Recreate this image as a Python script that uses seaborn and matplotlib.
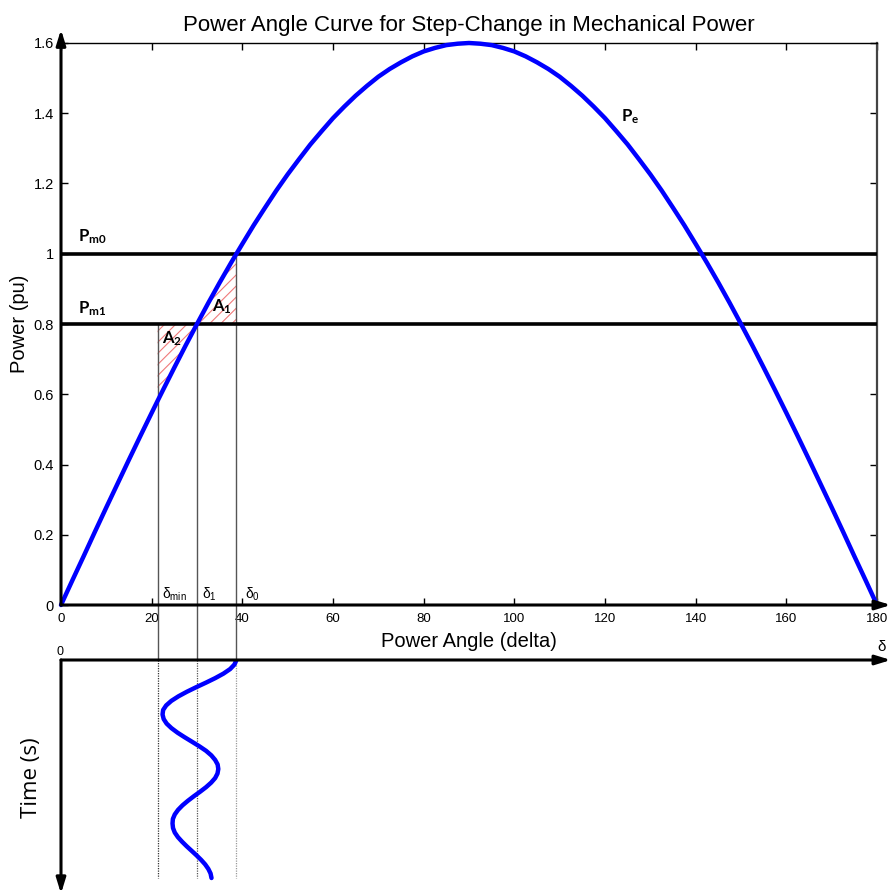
import numpy as np
import pandas as pd
import matplotlib
matplotlib.use("Agg")
import matplotlib.pyplot as plt
import seaborn as sns

# ---------------- data ----------------
delta_deg = [0, 2.5, 5, 7.5, 10, 12.5, 15, 17.5, 20, 21.3, 22.5, 25, 27.5, 30, 32.5, 35,
             37.5, 38.7, 40, 42.5, 45, 47.5, 50, 52.5, 55, 57.5, 60, 62.5, 65, 67.5, 70,
             72.5, 75, 77.5, 80, 82.5, 85, 87.5, 90, 92.5, 95, 97.5, 100, 102.5, 105,
             107.5, 110, 112.5, 115, 117.5, 120, 122.5, 125, 127.5, 130, 132.5, 135,
             137.5, 140, 142.5, 145, 147.5, 150, 152.5, 155, 157.5, 160, 162.5, 165,
             167.5, 170, 172.5, 175, 177.5, 180]
pe_pu = [0.0, 0.070, 0.139, 0.209, 0.278, 0.346, 0.414, 0.481, 0.547, 0.581, 0.612,
         0.676, 0.739, 0.800, 0.860, 0.918, 0.974, 1.000, 1.028, 1.081, 1.131, 1.180,
         1.226, 1.269, 1.311, 1.349, 1.386, 1.419, 1.450, 1.478, 1.504, 1.526, 1.545,
         1.562, 1.576, 1.586, 1.594, 1.598, 1.600, 1.598, 1.594, 1.586, 1.576, 1.562,
         1.545, 1.526, 1.504, 1.478, 1.450, 1.419, 1.386, 1.349, 1.311, 1.269, 1.226,
         1.180, 1.131, 1.081, 1.028, 0.974, 0.918, 0.860, 0.800, 0.739, 0.676, 0.612,
         0.547, 0.481, 0.414, 0.346, 0.278, 0.209, 0.139, 0.070, 0.0]
pm0 = 1.0
pm1 = 0.8
delta_min = 21.3
delta_1 = 30.0
delta_0 = 38.7

time_s = [0.0, 0.05, 0.1, 0.15, 0.2, 0.25, 0.3, 0.35, 0.4, 0.45, 0.5, 0.55, 0.6,
          0.65, 0.7, 0.75, 0.8, 0.85, 0.9, 0.95, 1.0, 1.05, 1.1, 1.15, 1.2,
          1.25, 1.3, 1.35, 1.4, 1.45, 1.5, 1.55, 1.6, 1.65, 1.7, 1.75, 1.8,
          1.85, 1.9, 1.95, 2.0, 2.05, 2.1, 2.15, 2.2, 2.25, 2.3, 2.35, 2.4]
delta_t = [38.7, 38.26, 37.3, 35.83, 34.0, 31.95, 29.8, 27.75, 25.9, 24.34, 23.2, 22.53,
           22.4, 22.65, 23.3, 24.36, 25.7, 27.26, 28.9, 30.52, 32.0, 33.16, 34.0, 34.55,
           34.7, 34.52, 34.0, 33.12, 32.0, 30.69, 29.3, 27.99, 26.8, 25.82, 25.1, 24.68,
           24.6, 24.71, 25.1, 25.79, 26.7, 27.71, 28.8, 29.88, 30.9, 31.80, 32.5, 32.99,
           33.2]

x_ticks = [0, 20, 40, 60, 80, 100, 120, 140, 160, 180]
y_ticks = [0, 0.2, 0.4, 0.6, 0.8, 1.0, 1.2, 1.4, 1.6]
y_ticklabels = ["0", "0.2", "0.4", "0.6", "0.8", "1", "1.2", "1.4", "1.6"]

title = "Power Angle Curve for Step-Change in Mechanical Power"
xlabel = "Power Angle (delta)"
ylabel = "Power (pu)"
tlabel = "Time (s)"

# ---------------- style ----------------
sns.set_theme(style="white")
plt.rcParams["font.family"] = ["Liberation Sans", "DejaVu Sans"]
plt.rcParams["text.color"] = "black"
plt.rcParams["axes.labelcolor"] = "black"
plt.rcParams["xtick.color"] = "black"
plt.rcParams["ytick.color"] = "black"
plt.rcParams["mathtext.fontset"] = "custom"
plt.rcParams["mathtext.rm"] = "Liberation Sans"
plt.rcParams["mathtext.it"] = "Liberation Sans:italic"
plt.rcParams["mathtext.bf"] = "Lato:bold"
plt.rcParams["hatch.linewidth"] = 0.8

df = pd.DataFrame({"delta": delta_deg, "pe": pe_pu})
osc = pd.DataFrame({"t": time_s, "delta": delta_t})

W, H = 891, 896
fig = plt.figure(figsize=(W / 100, H / 100), dpi=100)
fig.patch.set_facecolor("white")

# main axes: x 61..877 px, y 43..605 px
ax = fig.add_axes([61 / W, 1 - 605 / H, 816 / W, 562 / H])
# lower (time) axes: top at 660 px, bottom at 890 px
ax2 = fig.add_axes([61 / W, 1 - 890 / H, 816 / W, 230 / H])

ax.set_xlim(0, 180)
ax.set_ylim(0, 1.6)

# power-angle curve
sns.lineplot(data=df, x="delta", y="pe", ax=ax, color="#0000ff", lw=3.2,
             clip_on=False, zorder=5)

# mechanical power lines
ax.axhline(pm0, color="black", lw=2.6, zorder=4)
ax.axhline(pm1, color="black", lw=2.6, zorder=4)

# hatched areas
a1 = df[(df.delta >= delta_1) & (df.delta <= delta_0)]
a2 = df[(df.delta >= delta_min) & (df.delta <= delta_1)]
ax.fill_between(a1.delta, pm1, a1.pe, facecolor="none", edgecolor="#f07a7a",
                hatch="///", lw=0, zorder=2)
ax.fill_between(a2.delta, a2.pe, pm1, facecolor="none", edgecolor="#f07a7a",
                hatch="///", lw=0, zorder=2)

# vertical guide lines, extended down to the time axes
pos_main = ax.get_position()
pos_low = ax2.get_position()
y_gap = 0 - (pos_main.y0 - pos_low.y1) / pos_main.height * (1.6 - 0)
ax.vlines([delta_min, delta_1], pm1, y_gap, colors="#555555", lw=1.0,
          clip_on=False, zorder=3)
ax.vlines([delta_0], pm0, y_gap, colors="#555555", lw=1.0, clip_on=False, zorder=3)

# spines and ticks
for s in ["left", "bottom"]:
    ax.spines[s].set_visible(False)
ax.spines["top"].set_color("black")
ax.spines["top"].set_linewidth(1.0)
ax.spines["right"].set_color("#444444")
ax.spines["right"].set_linewidth(1.6)

ax.set_xticks(x_ticks)
ax.set_xticklabels([str(v) for v in x_ticks])
ax.set_yticks(y_ticks)
ax.set_yticklabels(y_ticklabels)
ax.tick_params(direction="in", length=5, width=1, colors="black",
               top=True, right=True, bottom=True, left=True, pad=5)
ax.tick_params(axis="x", pad=6, labelsize=9.5)
ax.tick_params(axis="y", labelsize=10.5)

ax.set_title(title, fontsize=16, pad=9, color="black")
ax.set_xlabel(xlabel, fontsize=14.5)
ax.xaxis.set_label_coords(0.5, -(632 - 605) / 562)
ax.set_ylabel(ylabel, fontsize=14.5)
ax.yaxis.set_label_coords(-(61 - 29) / 816, 0.5)

arrow = dict(arrowstyle="-|>,head_length=0.65,head_width=0.2", color="black",
             lw=2.2, mutation_scale=14, shrinkA=0, shrinkB=0)
ax.annotate("", xy=(0, 1.024), xytext=(0, 0), xycoords="axes fraction",
            textcoords="axes fraction", arrowprops=arrow, zorder=6)
ax.annotate("", xy=(1.017, 0), xytext=(0, 0), xycoords="axes fraction",
            textcoords="axes fraction", arrowprops=arrow, zorder=6)

# labels on the chart
ax.text(3.7, 1.05, r"$\mathbf{P_{m0}}$", fontsize=12, ha="left", va="center")
ax.text(3.7, 0.845, r"$\mathbf{P_{m1}}$", fontsize=12, ha="left", va="center")
ax.text(123.6, 1.39, r"$\mathbf{P_{e}}$", fontsize=12, ha="left", va="center")
ax.text(33.4, 0.85, r"$\mathbf{A_{1}}$", fontsize=12, ha="left", va="center")
ax.text(22.2, 0.758, r"$\mathbf{A_{2}}$", fontsize=12, ha="left", va="center")
ax.text(22.2, 0.03, r"δ$_{\mathrm{min}}$", fontsize=10, ha="left", va="center")
ax.text(31.0, 0.03, r"δ$_{\mathrm{1}}$", fontsize=10, ha="left", va="center")
ax.text(40.5, 0.03, r"δ$_{\mathrm{0}}$", fontsize=10, ha="left", va="center")

# ---------------- lower time axes ----------------
t_end = time_s[-1] * 230 / 218
ax2.set_xlim(0, 180)
ax2.set_ylim(t_end, 0)
for s in ax2.spines.values():
    s.set_visible(False)
ax2.set_xticks([])
ax2.set_yticks([])
ax2.patch.set_alpha(0)

ax2.vlines([delta_min], 0, time_s[-1], colors="#333333", lw=0.9, linestyles=(0, (1, 1)))
ax2.vlines([delta_1], 0, time_s[-1], colors="#555555", lw=0.9, linestyles=(0, (1, 1)))
ax2.vlines([delta_0], 0, time_s[-1], colors="#999999", lw=0.9, linestyles=(0, (1, 1)))

sns.lineplot(data=osc, x="delta", y="t", ax=ax2, sort=False, estimator=None,
             color="#0000ff", lw=3.2, zorder=5)
ax2.set_xlabel("")
ax2.set_ylabel("")

ax2.annotate("", xy=(1.017, 1), xytext=(0, 1), xycoords="axes fraction",
             textcoords="axes fraction", arrowprops=arrow, zorder=6)
ax2.annotate("", xy=(0, -0.016), xytext=(0, 1), xycoords="axes fraction",
             textcoords="axes fraction", arrowprops=arrow, zorder=6)
ax2.text(-0.001, 1.035, "0", transform=ax2.transAxes, fontsize=9,
         ha="center", va="center")
ax2.text(1.005, 1.055, "δ", transform=ax2.transAxes, fontsize=11,
         ha="center", va="center")

fig.text(31 / W, 1 - 778 / H, tlabel, rotation=90, fontsize=16,
         family=["Open Sans", "DejaVu Sans"], ha="center", va="center")

fig.savefig("out.png", dpi=100, facecolor="white")
